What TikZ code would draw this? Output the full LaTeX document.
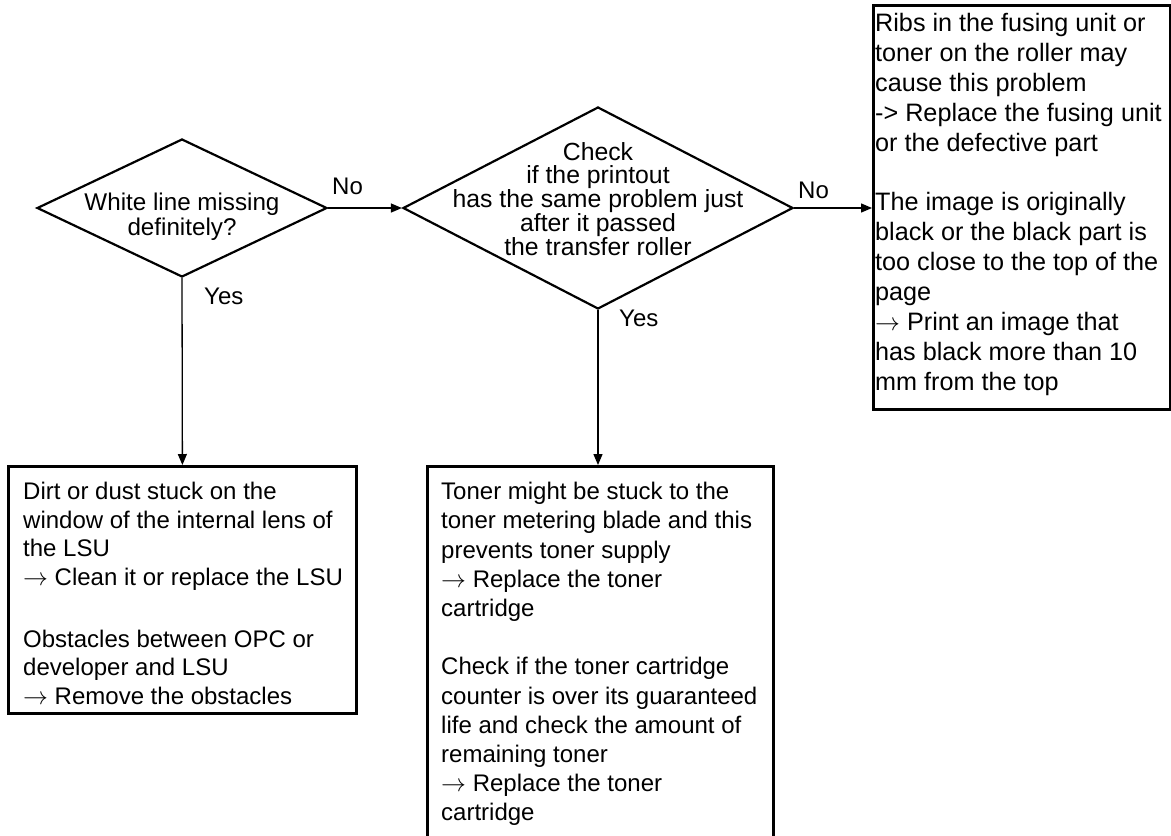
\documentclass[tikz,border=0pt]{standalone}
\usepackage{fontspec}
\setmainfont{Liberation Sans}
\usetikzlibrary{shapes.geometric,arrows.meta,calc}
\begin{document}
\begin{tikzpicture}[x=1pt,y=-1pt,
  box/.style={draw,line width=2.8pt,inner sep=0pt,anchor=north west},
  dec/.style={draw,diamond,line width=2.2pt,inner sep=0pt},
  txt/.style={font=\fontsize{24}{28.6}\selectfont,inner sep=0pt,align=left,anchor=north west},
  dtxt/.style={font=\fontsize{24.8}{23.8}\selectfont,inner sep=0pt,align=center,anchor=north},
  lbl/.style={font=\fontsize{24}{24}\selectfont,inner sep=0pt,anchor=north west},
  conn/.style={line width=1.3pt,-{Triangle[length=11pt,width=9pt]}}]
\useasboundingbox (0,0) rectangle (1171,836);
% decisions
\node[dec,minimum width=290pt,minimum height=138pt] (d1) at (182,208) {};
\node[dtxt,font=\fontsize{24.2}{24.3}\selectfont] (d1t) at (182,193) {White line missing\\definitely?};
\node[dec,minimum width=390pt,minimum height=202pt] (d2) at (598,208) {};
\node[dtxt] (d2t) at (598,142) {Check\\if the printout\\has the same problem just\\after it passed\\the transfer roller};
% boxes
\node[box,minimum width=348pt,minimum height=247pt] (b1) at (7,465) {};
\node[txt] (b1t) at (23,482) {Dirt or dust stuck on the\\
window of the internal lens of\\
the LSU\\
$\rightarrow$ Clean it or replace the LSU\\[33pt]
Obstacles between OPC or\\
developer and LSU\\
$\rightarrow$ Remove the obstacles};
\node[box,minimum width=346pt,minimum height=378pt] (b2) at (426,465) {};
\node[txt,font=\fontsize{24}{29.2}\selectfont] (b2t) at (441,482) {Toner might be stuck to the\\
toner metering blade and this\\
prevents toner supply\\
$\rightarrow$ Replace the toner\\
cartridge\\[29.2pt]
Check if the toner cartridge\\
counter is over its guaranteed\\
life and check the amount of\\
remaining toner\\
$\rightarrow$ Replace the toner\\
cartridge};
\node[box,minimum width=297pt,minimum height=404pt] (b3) at (872,4) {};
\node[txt,font=\fontsize{25.2}{29.9}\selectfont] (b3t) at (875,13) {Ribs in the fusing unit or\\
toner on the roller may\\
cause this problem\\
-> Replace the fusing unit\\
or the defective part\\[29.9pt]
The image is originally\\
black or the black part is\\
too close to the top of the\\
page\\
$\rightarrow$ Print an image that\\
has black more than 10\\
mm from the top};
% connectors
\draw[conn] (d1.east) -- (d2.west);
\draw[conn] (d1.south) -- (b1.north);
\draw[conn] (d2.east) -- (b3.west |- d2.east);
\draw[conn] (d2.south) -- (d2.south |- b2.north);
% labels
\node[lbl] (l1) at (332,178) {No};
\node[lbl] (l2) at (204,288) {Yes};
\node[lbl] (l3) at (798,182) {No};
\node[lbl] (l4) at (619,310) {Yes};
\end{tikzpicture}
\end{document}
